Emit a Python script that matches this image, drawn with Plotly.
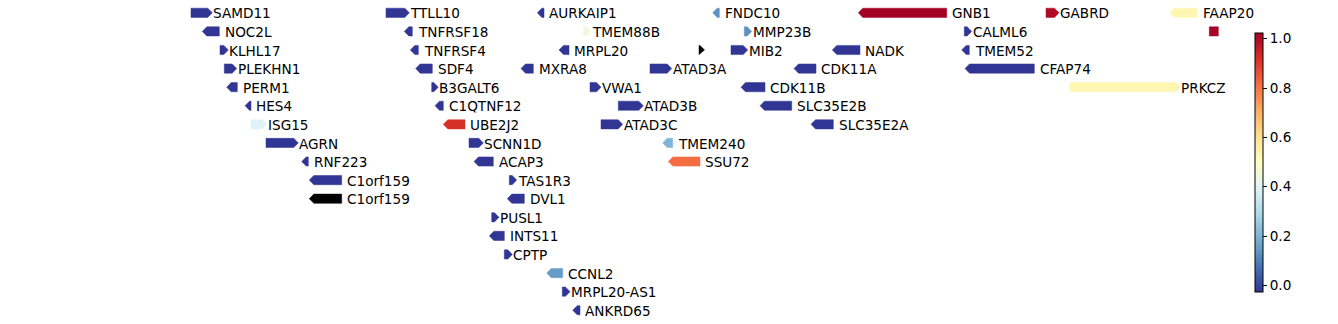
import plotly.graph_objects as go
from plotly.colors import diverging, sample_colorscale

# ---- data ----
gene_names = ["SAMD11", "TTLL10", "AURKAIP1", "FNDC10", "GNB1", "GABRD", "FAAP20",
              "NOC2L", "TNFRSF18", "TMEM88B", "MMP23B", "CALML6", "",
              "KLHL17", "TNFRSF4", "MRPL20", "", "MIB2", "NADK", "TMEM52",
              "PLEKHN1", "SDF4", "MXRA8", "ATAD3A", "CDK11A", "CFAP74",
              "PERM1", "B3GALT6", "VWA1", "CDK11B", "PRKCZ",
              "HES4", "C1QTNF12", "ATAD3B", "SLC35E2B",
              "ISG15", "UBE2J2", "ATAD3C", "SLC35E2A",
              "AGRN", "SCNN1D", "TMEM240",
              "RNF223", "ACAP3", "SSU72",
              "C1orf159", "TAS1R3",
              "C1orf159", "DVL1",
              "PUSL1", "INTS11", "CPTP", "CCNL2", "MRPL20-AS1", "ANKRD65"]
gene_row = [0, 0, 0, 0, 0, 0, 0,
            1, 1, 1, 1, 1, 1,
            2, 2, 2, 2, 2, 2, 2,
            3, 3, 3, 3, 3, 3,
            4, 4, 4, 4, 4,
            5, 5, 5, 5,
            6, 6, 6, 6,
            7, 7, 7,
            8, 8, 8,
            9, 9,
            10, 10,
            11, 12, 13, 14, 15, 16]
gene_start = [191, 386, 541.8, 717.2, 862.8, 1046, 1174.5,
              206.8, 408.8, 583.3, 744.3, 964.3, 1209.3,
              220, 414.8, 563.5, 699, 731, 836.8, 966.2,
              224.3, 420.2, 525.5, 650, 798.5, 969.5,
              231.2, 431.7, 590, 745.5, 1070,
              249.5, 439.5, 618.3, 764.5,
              251, 447.8, 601, 815.5,
              266, 469, 667.2,
              306.2, 478.5, 672.8,
              313.8, 509.3,
              313.8, 511.8,
              491.7, 493.8, 504.3, 551.2, 562.3, 577.2]
gene_end = [207.8, 404.8, 544, 719.3, 946.7, 1054.5, 1197.3,
            219.3, 412.3, 586.5, 747.2, 967.2, 1218.3,
            223.8, 418.3, 569, 700, 743.2, 860, 969.3,
            232.2, 432.3, 533.3, 667.2, 816, 1034.3,
            237.3, 433.8, 596.5, 765, 1175.5,
            251, 443.3, 638.8, 791.7,
            262.2, 465, 618.2, 833.3,
            293.8, 478.8, 672.7,
            308.3, 493.3, 700,
            341.7, 512.2,
            341.7, 524.3,
            494.5, 504.3, 507.8, 562.7, 565.5, 580]
gene_strand = ["+", "+", "-", "-", "-", "+", "-",
               "-", "-", "+", "+", "+", ".",
               "+", "-", "-", "+", "+", "-", "-",
               "+", "-", "-", "+", "-", "-",
               "-", "+", "+", "-", "+",
               "-", "-", "+", "-",
               "+", "-", "+", "-",
               "+", "+", "-",
               "-", "-", "-",
               "-", "+",
               "-", "-",
               "+", "-", "+", "-", "+", "-"]
gene_value = [0, 0, 0, 0.15, 1.0, 0.98, 0.53,
              0, 0, 0.45, 0.15, 0, 1.0,
              0, 0, 0, None, 0, 0, 0,
              0, 0, 0, 0, 0, 0,
              0, 0, 0, 0, 0.53,
              0, 0, 0, 0,
              0.4, 0.9, 0, 0,
              0, 0, 0.22,
              0, 0, 0.8,
              0, 0,
              None, 0,
              0, 0, 0, 0.17, 0, 0]
cbar_ticks = [0.0, 0.2, 0.4, 0.6, 0.8, 1.0]
cbar_ticktext = ["0.0", "0.2", "0.4", "0.6", "0.8", "1.0"]

# ---- style ----
W, H = 1338, 324
FONT = "DejaVu Sans"
FS = 13.6
row0_px, row_px = 12.8, 18.59
half_h = 4.6 / row_px
head = 4.5
label_gap = 5.3
scale = [[i / 10, c] for i, c in enumerate(diverging.RdYlBu[::-1])]
cmin, cmax = -0.027, 1.023

fig = go.Figure()
annotations = []
for name, r, s, e, st, v in zip(gene_names, gene_row, gene_start, gene_end, gene_strand, gene_value):
    if v is None:
        col = "black"
    else:
        col = sample_colorscale(scale, [min(max(v, 0), 1)])[0]
    y0, y1 = r - half_h, r + half_h
    if st == "+":
        xs = [s, e, e + head, e, s, s]
        ys = [y0, y0, r, y1, y1, y0]
    elif st == "-":
        xs = [s, e, e, s, s - head, s]
        ys = [y0, y0, y1, y1, r, y0]
    else:
        xs = [s, e, e, s, s]
        ys = [y0, y0, y1, y1, y0]
    fig.add_trace(go.Scatter(x=xs, y=ys, mode="lines", fill="toself", fillcolor=col,
                             line=dict(width=0.5, color=col), hoverinfo="text", text=name,
                             showlegend=False))
    if name:
        annotations.append(dict(x=e + label_gap - 2, y=r, xref="x", yref="y", text=name,
                                showarrow=False, xanchor="left", yanchor="middle", yshift=-0.6,
                                font=dict(family=FONT, size=FS, color="black")))

# colorbar carrier
fig.add_trace(go.Scatter(x=[None], y=[None], mode="markers", showlegend=False,
                         marker=dict(color=[0], colorscale=scale, cmin=cmin, cmax=cmax,
                                     showscale=True,
                                     colorbar=dict(x=1255 / W, xanchor="left", y=1 - 33 / H, yanchor="top",
                                                   len=259, lenmode="pixels", thickness=8,
                                                   xpad=0, ypad=0, outlinewidth=1, outlinecolor="black",
                                                   ticks="outside", ticklen=4, tickwidth=1, tickcolor="black",
                                                   tickvals=cbar_ticks, ticktext=cbar_ticktext,
                                                   tickfont=dict(family=FONT, size=FS, color="black")))))

ytop = -row0_px / row_px
ybot = (H - row0_px) / row_px
fig.update_layout(width=W, height=H, margin=dict(l=0, r=0, t=0, b=0),
                  paper_bgcolor="white", plot_bgcolor="white",
                  annotations=annotations,
                  xaxis=dict(range=[0, W], visible=False, fixedrange=True),
                  yaxis=dict(range=[ybot, ytop], visible=False, fixedrange=True))
fig.write_html("out.html")
